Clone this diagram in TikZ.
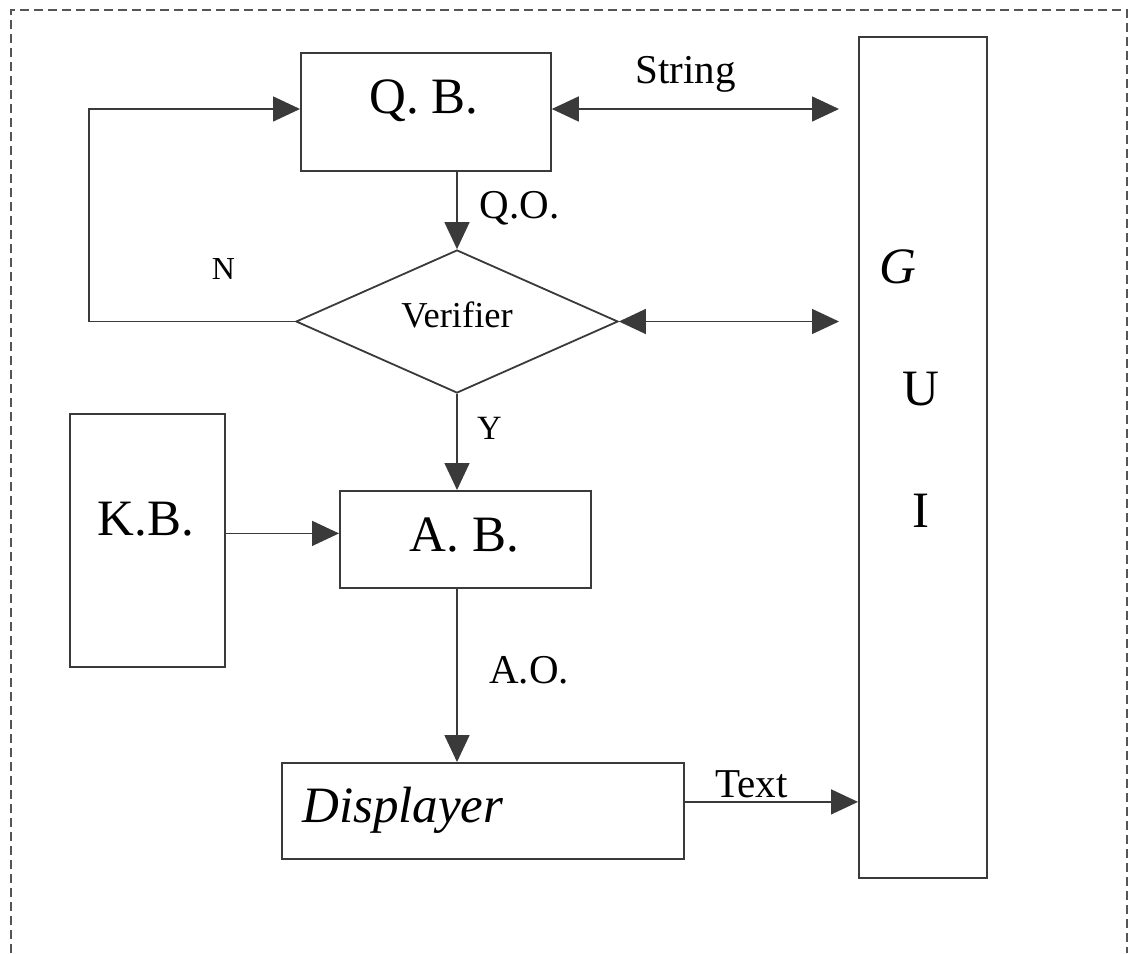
\documentclass[tikz,border=0pt]{standalone}
\usepackage{fontspec}
\setmainfont{Liberation Serif}
\usetikzlibrary{arrows.meta,shapes.geometric}
\definecolor{ink}{HTML}{3A3A3A}
\definecolor{framegray}{HTML}{555555}
\tikzset{
  blk/.style={draw=ink, line width=1.8pt, inner sep=0pt, anchor=north west},
  flow/.style={draw=ink, line width=1.5pt, -{Triangle[length=27pt,width=25pt]}},
  flowboth/.style={draw=ink, line width=1.5pt,
    {Triangle[length=27pt,width=25pt]}-{Triangle[length=27pt,width=25pt]}},
  bigtxt/.style={font=\fontsize{51}{60}\selectfont, anchor=base, inner sep=0pt},
  midtxt/.style={font=\fontsize{41}{48}\selectfont, anchor=base, inner sep=0pt},
  smltxt/.style={font=\fontsize{34}{40}\selectfont, anchor=base, inner sep=0pt},
}
\begin{document}
\begin{tikzpicture}[x=1pt,y=-1pt]
\useasboundingbox[fill=white] (0,0) rectangle (1131,953);
% outer dashed frame (open at the bottom edge)
\draw[framegray, line width=1.5pt, dash pattern=on 9pt off 5pt]
  (11,953) -- (11,10) -- (1127,10) -- (1127,953);

% blocks
\node[blk, minimum width=250pt, minimum height=118pt] (qb) at (300,52) {};
\node[blk, minimum width=128pt, minimum height=841pt] (gui) at (858,36) {};
\node[blk, minimum width=155pt, minimum height=253pt] (kb) at (69,413) {};
\node[blk, minimum width=251pt, minimum height=97pt] (ab) at (339,490) {};
\node[blk, minimum width=402pt, minimum height=96pt] (disp) at (281,762) {};
\node[draw=ink, line width=1.8pt, diamond, inner sep=0pt,
      minimum width=322pt, minimum height=143pt] (dia) at (457,321.5) {};

% labels
\node[bigtxt] (qbt) at (424,113) {Q. B.};
\node[midtxt] (strt) at (685.5,83) {String};
\node[midtxt] (qot) at (519.5,218) {Q.O.};
\node[smltxt, font=\fontsize{32}{38}\selectfont] (nt) at (223.5,279) {N};
\node[anchor=base, inner sep=0pt, font=\fontsize{36.5}{42}\selectfont] (vt) at (457,327) {Verifier};
\node[smltxt] (yt) at (489.5,439) {Y};
\node[bigtxt] (kbt) at (146,535) {K.B.};
\node[bigtxt] (abt) at (464.5,551) {A. B.};
\node[midtxt] (aot) at (529,683) {A.O.};
\node[bigtxt, anchor=base west] (dispt) at (302,822) {\itshape Displayer};
\node[midtxt] (txt) at (751.5,797) {Text};
\node[bigtxt] (gt) at (898,283) {\itshape G};
\node[bigtxt] (ut) at (921,405) {U};
\node[bigtxt] (it) at (921,527) {I};

% connectors
\coordinate (loopcorner) at (89,109);
\coordinate (strend) at (839,109);
\coordinate (verend) at (839,321.5);
\draw[flow] (dia.west) -| (loopcorner) -- (loopcorner -| qb.west);
\draw[flowboth] (strend -| qb.east) -- (strend);
\draw[flow] (dia.north |- qb.south) -- (dia.north);
\draw[flowboth] (dia.east) -- (verend);
\draw[flow] (dia.south) -- (dia.south |- ab.north);
\draw[flow] ([yshift=7pt]kb.east) -- ([yshift=7pt]kb.east -| ab.west);
\draw[flow] (dia.south |- ab.south) -- (dia.south |- disp.north);
\draw[flow] ([yshift=9pt]disp.east) -- ([yshift=9pt]disp.east -| gui.west);
\end{tikzpicture}
\end{document}
